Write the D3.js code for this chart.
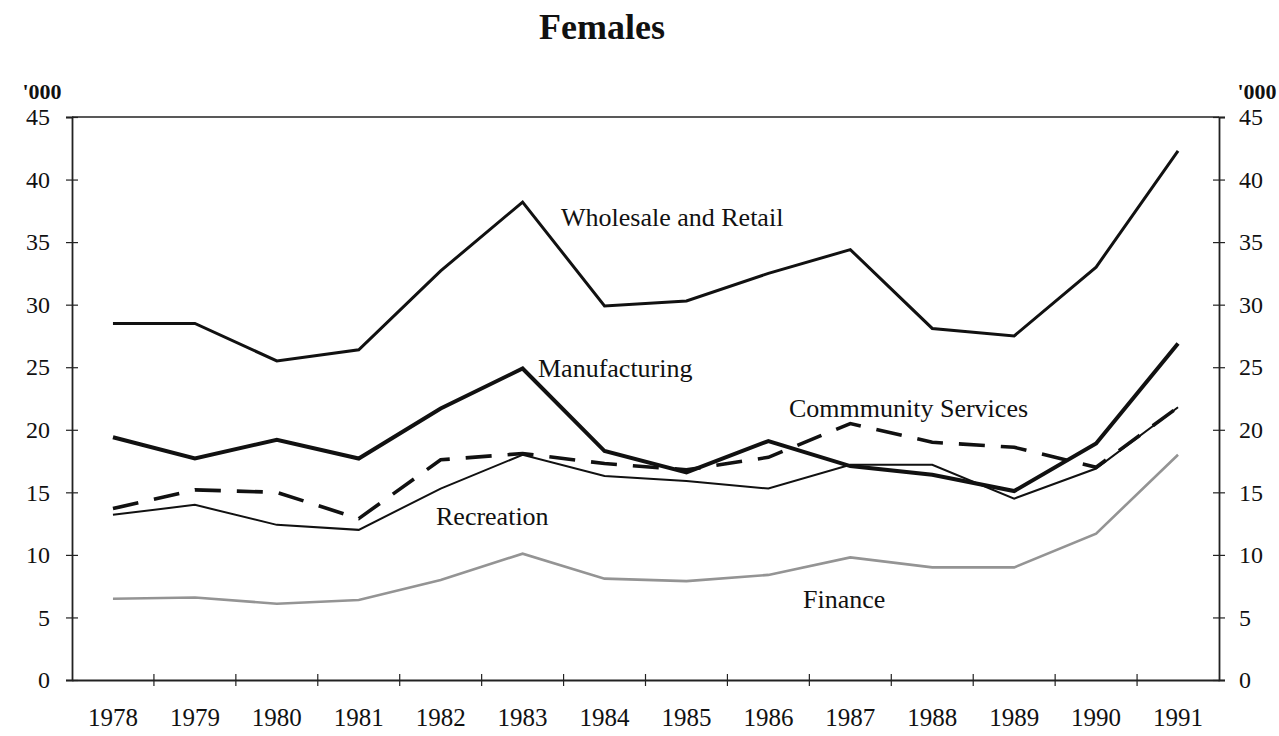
<!DOCTYPE html>
<html>
<head>
<meta charset="utf-8">
<script src="https://cdn.jsdelivr.net/npm/d3@7"></script>
<style>
  html, body { margin: 0; padding: 0; background: #fff; }
  svg text { font-family: "Liberation Serif", "Times New Roman", serif; fill: #111; }
</style>
</head>
<body>
<svg id="chart" width="1279" height="736"></svg>
<script>
// Female employment by industry, thousands
const years = ["1978","1979","1980","1981","1982","1983","1984","1985","1986","1987","1988","1989","1990","1991"];
const wholesaleRetail = [28.5, 28.5, 25.5, 26.4, 32.7, 38.2, 29.9, 30.3, 32.5, 34.4, 28.1, 27.5, 33.0, 42.3];
const manufacturing   = [19.4, 17.7, 19.2, 17.7, 21.7, 24.9, 18.3, 16.6, 19.1, 17.1, 16.4, 15.1, 18.9, 26.9];
const community       = [13.7, 15.2, 15.0, 12.9, 17.6, 18.1, 17.3, 16.8, 17.8, 20.5, 19.0, 18.6, 17.0, 21.8];
const recreation      = [13.2, 14.0, 12.4, 12.0, 15.3, 18.0, 16.3, 15.9, 15.3, 17.2, 17.2, 14.5, 16.9, 21.8];
const finance         = [6.5, 6.6, 6.1, 6.4, 8.0, 10.1, 8.1, 7.9, 8.4, 9.8, 9.0, 9.0, 11.7, 18.0];
const yTicks = [0, 5, 10, 15, 20, 25, 30, 35, 40, 45];

const svg = d3.select("#chart");
const plotLeft = 72, plotRight = 1219, plotTop = 117, plotBottom = 680;

const x = d3.scaleBand().domain(years).range([plotLeft, plotRight]).padding(0);
const y = d3.scaleLinear().domain([0, 45]).range([plotBottom, plotTop]);
const cx = d => x(d) + x.bandwidth() / 2;

// Title
svg.append("text").attr("x", 602).attr("y", 39).attr("text-anchor", "middle")
  .attr("font-size", 36).attr("font-weight", "bold").text("Females");

// Unit labels
svg.append("text").attr("x", 42).attr("y", 99).attr("text-anchor", "middle")
  .attr("font-size", 22).attr("font-weight", "bold").text("'000");
svg.append("text").attr("x", 1257).attr("y", 99).attr("text-anchor", "middle")
  .attr("font-size", 22).attr("font-weight", "bold").text("'000");

// Frame top line
svg.append("line").attr("x1", plotLeft).attr("x2", plotRight).attr("y1", plotTop).attr("y2", plotTop)
  .attr("stroke", "#222").attr("stroke-width", 1.5);

// Left axis
const gL = svg.append("g").attr("transform", `translate(${plotLeft},0)`)
  .call(d3.axisLeft(y).tickValues(yTicks).tickSize(6).tickPadding(16).tickFormat(d3.format("d")));
gL.selectAll(".tick line").attr("x2", 6).attr("x1", -6);
// Right axis
const gR = svg.append("g").attr("transform", `translate(${plotRight},0)`)
  .call(d3.axisRight(y).tickValues(yTicks).tickSize(6).tickPadding(14).tickFormat(d3.format("d")));
gR.selectAll(".tick line").attr("x1", -6).attr("x2", 6);

// Bottom axis with ticks at category boundaries
const gB = svg.append("g").attr("transform", `translate(0,${plotBottom})`)
  .call(d3.axisBottom(x).tickSize(0).tickPadding(28));
const bounds = years.slice(1).map(d => x(d));
gB.selectAll(".bound").data(bounds).enter().append("line")
  .attr("x1", d => d).attr("x2", d => d).attr("y1", -6).attr("y2", 6)
  .attr("stroke", "#222").attr("stroke-width", 1.2);

[gL, gR, gB].forEach(g => {
  g.select(".domain").attr("stroke", "#222").attr("stroke-width", 1.8);
  g.selectAll(".tick line").attr("stroke", "#222").attr("stroke-width", 1.2);
  g.selectAll("text").attr("font-family", "Liberation Serif, serif").attr("fill", "#111");
});
gL.selectAll("text").attr("font-size", 24);
gR.selectAll("text").attr("font-size", 24);
gB.selectAll("text").attr("font-size", 25);

// Series lines
const line = d3.line().x((d, i) => cx(years[i])).y(d => y(d));
const series = [
  { values: finance, stroke: "#949494", width: 2.6, dash: null },
  { values: recreation, stroke: "#111", width: 2.0, dash: null },
  { values: community, stroke: "#111", width: 3.6, dash: "26,16" },
  { values: manufacturing, stroke: "#111", width: 4.0, dash: null },
  { values: wholesaleRetail, stroke: "#111", width: 3.0, dash: null }
];
svg.append("g").selectAll("path").data(series).enter().append("path")
  .attr("d", d => line(d.values))
  .attr("fill", "none")
  .attr("stroke", d => d.stroke)
  .attr("stroke-width", d => d.width)
  .attr("stroke-dasharray", d => d.dash)
  .attr("stroke-linejoin", "miter");

// Series labels
const labels = [
  { text: "Wholesale and Retail", x: 561, y: 226 },
  { text: "Manufacturing", x: 538, y: 377 },
  { text: "Commmunity Services", x: 789, y: 417 },
  { text: "Recreation", x: 436, y: 525 },
  { text: "Finance", x: 803, y: 608 }
];
svg.append("g").selectAll("text").data(labels).enter().append("text")
  .attr("x", d => d.x).attr("y", d => d.y).attr("font-size", 26)
  .text(d => d.text);
</script>
</body>
</html>
